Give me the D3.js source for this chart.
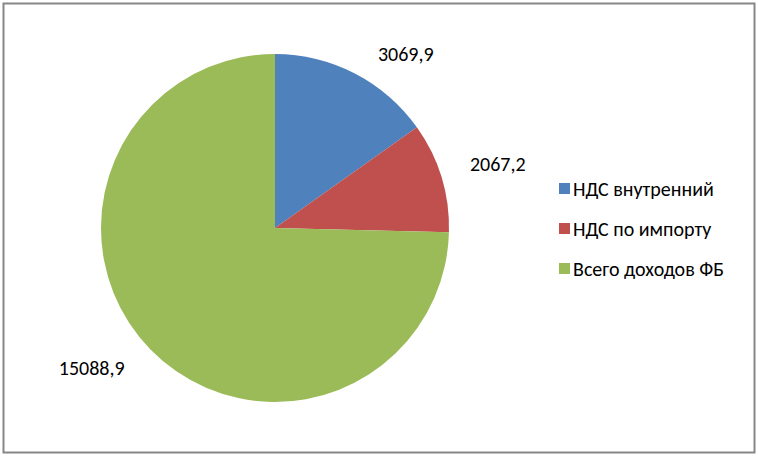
<!DOCTYPE html>
<html>
<head>
<meta charset="utf-8">
<script src="https://cdn.jsdelivr.net/npm/d3@7"></script>
<style>
  body { margin: 0; background: #fff; }
  svg { display: block; }
  text { font-family: Carlito, Calibri, "Open Sans", sans-serif; fill: #000; }
</style>
</head>
<body>
<svg id="chart" width="758" height="456"></svg>
<script>
// data
const categories = ["НДС внутренний", "НДС по импорту", "Всего доходов ФБ"]
const values = [3069.9, 2067.2, 15088.9]
const valueLabels = ["3069,9", "2067,2", "15088,9"]
const colors = ["#4F81BD", "#C0504D", "#9BBB59"]

const W = 758, H = 456
const svg = d3.select("#chart")

// outer frame
svg.append("rect")
  .attr("x", 3.5).attr("y", 3.5)
  .attr("width", W - 7).attr("height", H - 7)
  .attr("fill", "#fff")
  .attr("stroke", "#868686")
  .attr("stroke-width", 2)

const cx = 275, cy = 228, radius = 174

const pie = d3.pie().sort(null).value(d => d)
const arcs = pie(values)
const arc = d3.arc().innerRadius(0).outerRadius(radius)

const g = svg.append("g").attr("transform", `translate(${cx},${cy})`)

g.selectAll("path.slice")
  .data(arcs)
  .enter().append("path")
  .attr("class", "slice")
  .attr("d", arc)
  .attr("fill", (d, i) => colors[i])

// labels outside end: nearest corner sits on a ring just outside the pie
const labelR = radius + 11
g.selectAll("text.lbl")
  .data(arcs)
  .enter().append("text")
  .attr("class", "lbl")
  .attr("font-size", 20)
  .each(function(d, i) {
    const a = (d.startAngle + d.endAngle) / 2
    const s = Math.sin(a), c = Math.cos(a)
    const px = labelR * s, py = -labelR * c
    d3.select(this)
      .attr("x", px + (s >= 0 ? 18 : -18))
      .attr("y", py)
      .attr("text-anchor", s >= 0 ? "start" : "end")
      .attr("dy", c >= 0 ? "-0.15em" : "0.9em")
      .text(valueLabels[i])
  })

// legend
const legend = svg.append("g").attr("transform", "translate(559,183)")
const rowStep = 40
const items = legend.selectAll("g.item")
  .data(categories)
  .enter().append("g")
  .attr("class", "item")
  .attr("transform", (d, i) => `translate(0,${i * rowStep})`)

items.append("rect")
  .attr("width", 11).attr("height", 11)
  .attr("fill", (d, i) => colors[i])

items.append("text")
  .attr("x", 14)
  .attr("y", 6)
  .attr("dy", "0.34em")
  .attr("font-size", 20)
  .text(d => d)
</script>
</body>
</html>
